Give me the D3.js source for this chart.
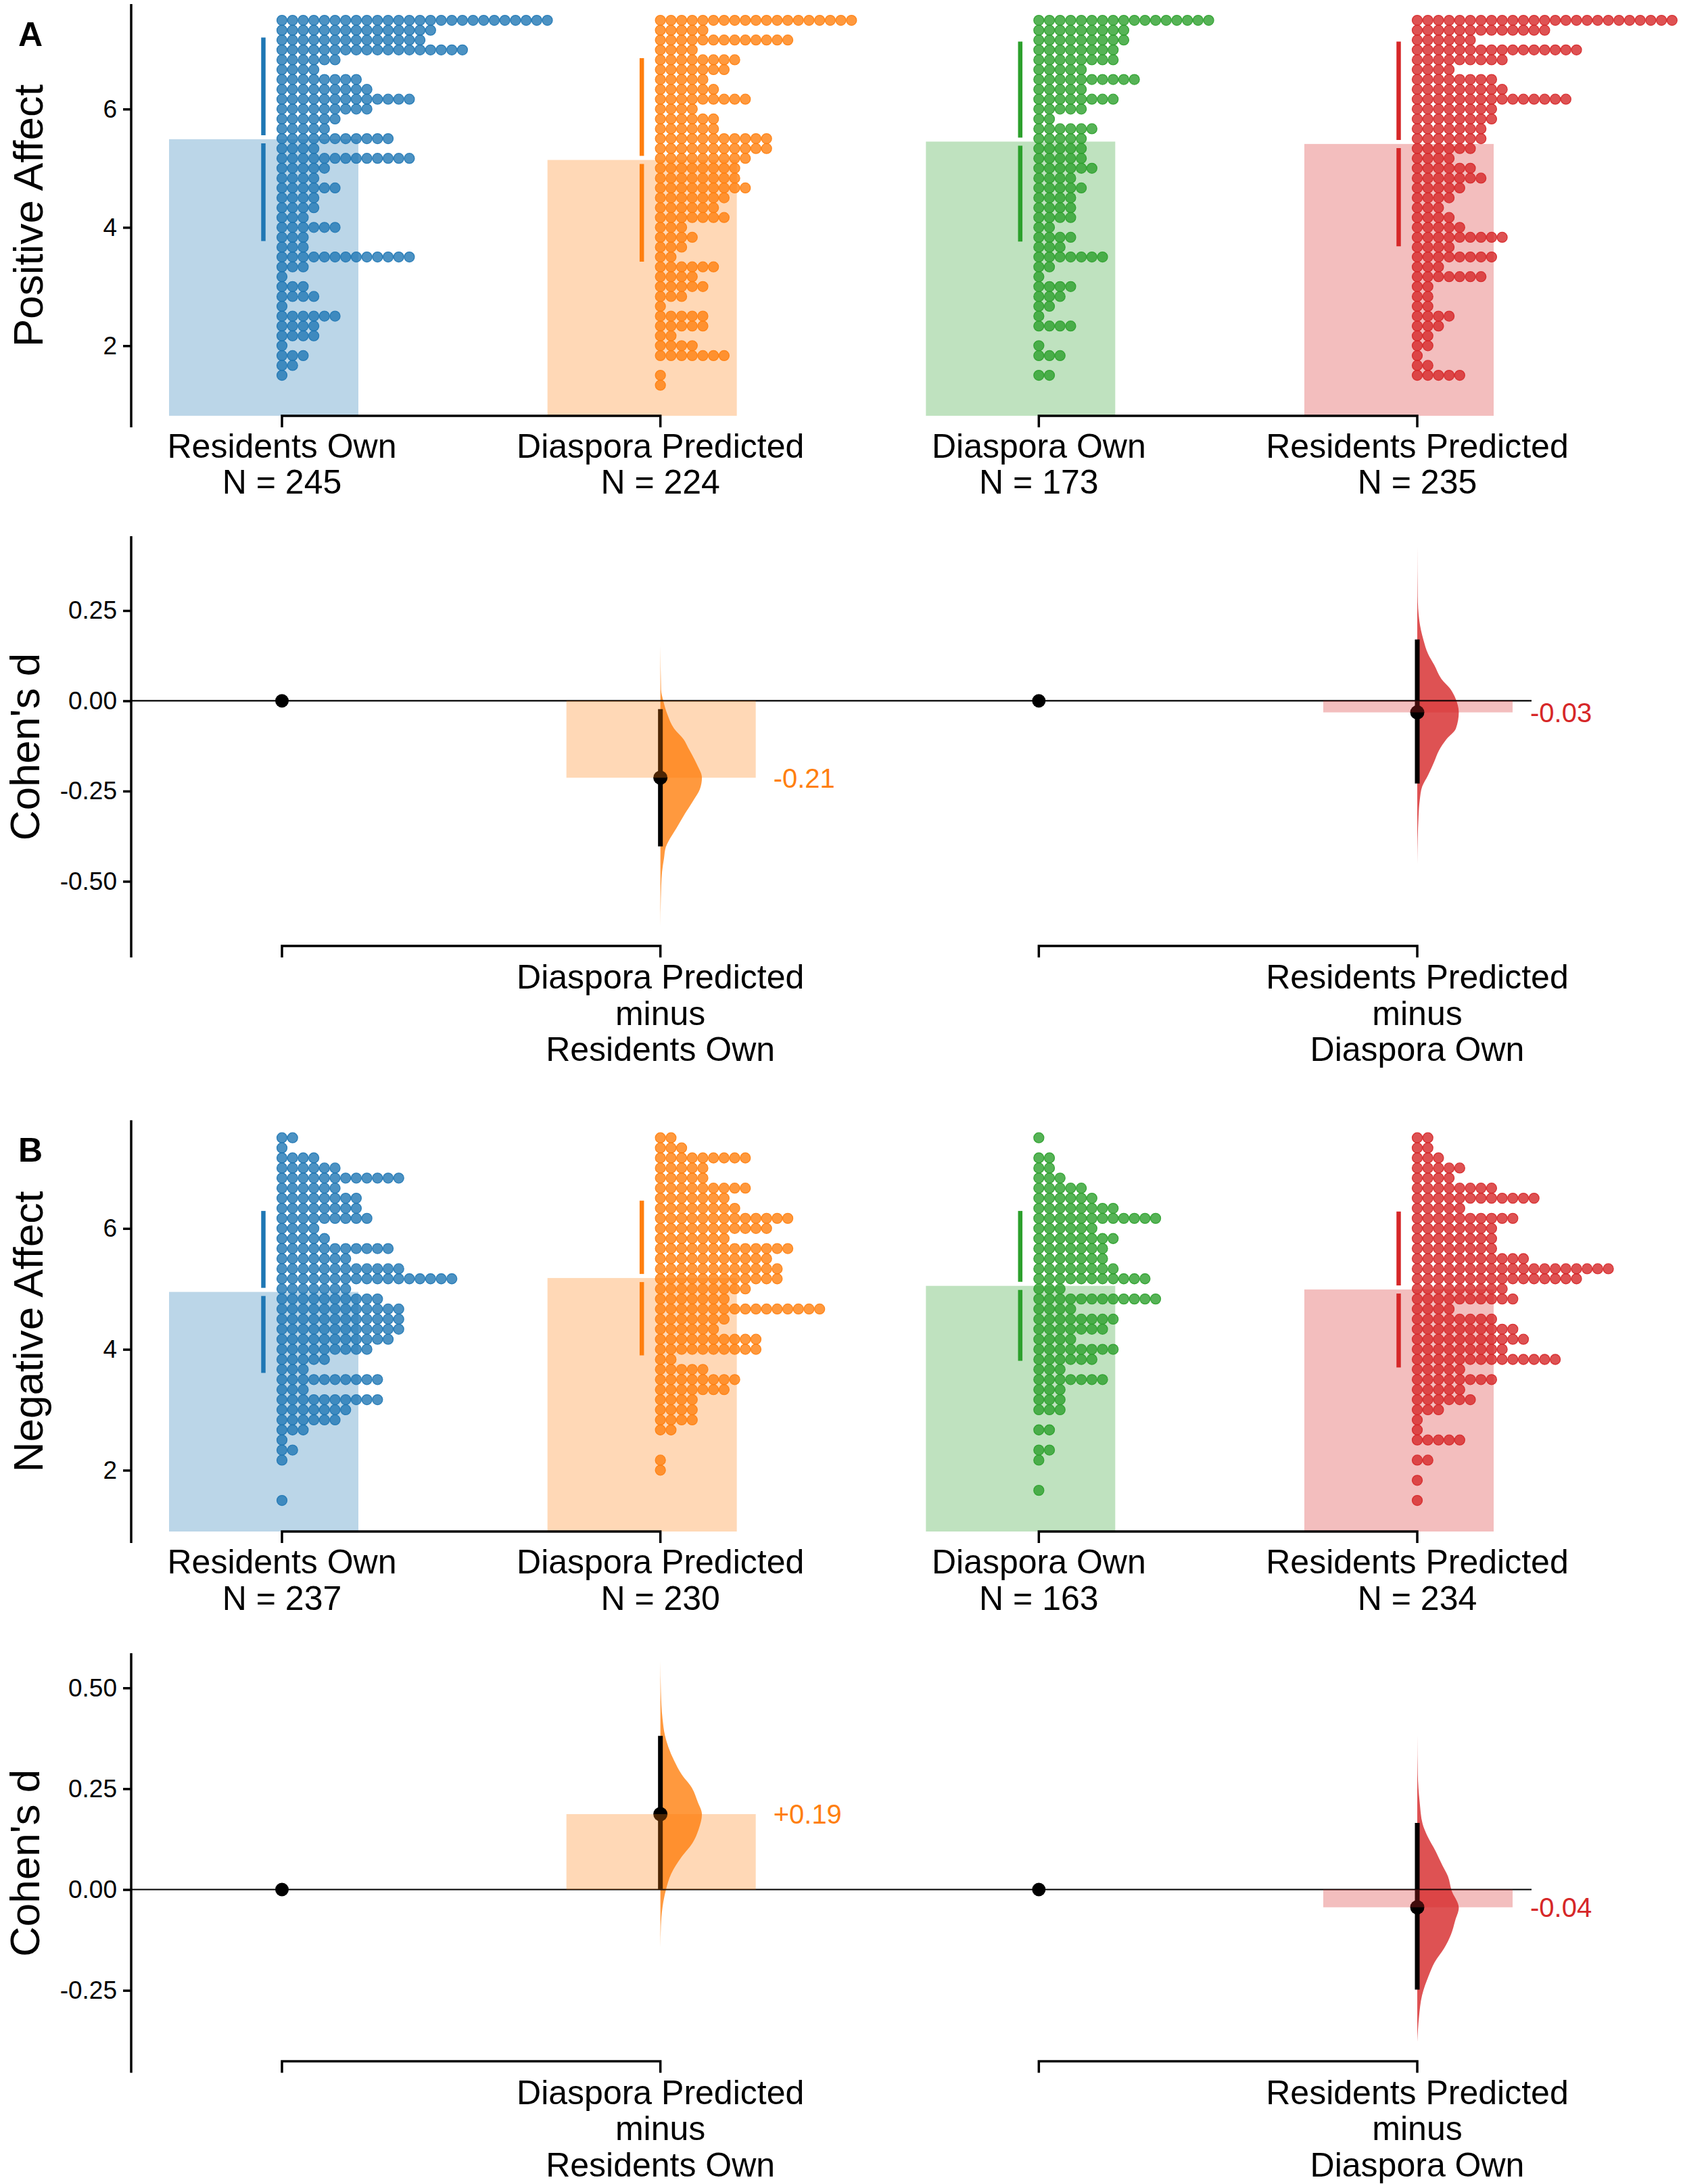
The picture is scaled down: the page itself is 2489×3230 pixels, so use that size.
<!DOCTYPE html>
<html>
<head>
  <meta charset="utf-8">
  <title>Affect estimation plots</title>
  <script src="https://d3js.org/d3.v7.min.js"></script>
  <style>
    body {
      margin: 0;
      background: white;
    }
    svg {
      display: block;
      font-family: "Liberation Sans", Arial, Helvetica, sans-serif;
    }
  </style>
</head>
<body>
  <div id="chart"></div>

  <script>
    // groups, in plot order
    const groups = ['Residents Own', 'Diaspora Predicted', 'Diaspora Own', 'Residents Predicted'];
    const nPositive = [245, 224, 173, 235];
    const nNegative = [237, 230, 163, 234];

    // response levels (scale means, steps of 1/6), top row first
    const levels = [7.5, 7.333, 7.167, 7, 6.833, 6.667, 6.5, 6.333, 6.167, 6,
      5.833, 5.667, 5.5, 5.333, 5.167, 5, 4.833, 4.667, 4.5, 4.333,
      4.167, 4, 3.833, 3.667, 3.5, 3.333, 3.167, 3, 2.833, 2.667,
      2.5, 2.333, 2.167, 2, 1.833, 1.667, 1.5, 1.333];

    // number of respondents at each level, positive affect
    const posResidentsOwn = [26, 15, 14, 18, 6, 4, 8, 9, 13, 9, 6, 5, 11, 4, 13, 5, 4, 6, 4, 4,
      3, 6, 3, 3, 13, 3, 1, 3, 4, 1, 6, 4, 4, 1, 3, 2, 1, 0];
    const posDiasporaPredicted = [19, 5, 13, 4, 8, 7, 5, 6, 9, 4, 6, 6, 11, 11, 9, 8, 8, 9, 7, 6,
      7, 3, 4, 3, 2, 6, 4, 5, 3, 1, 5, 5, 2, 4, 7, 0, 1, 1];
    const posDiasporaOwn = [17, 9, 9, 8, 8, 5, 10, 5, 8, 5, 2, 6, 5, 5, 5, 6, 4, 5, 4, 4,
      4, 2, 4, 3, 7, 2, 1, 4, 3, 2, 1, 4, 0, 1, 3, 0, 2, 0];
    const posResidentsPredicted = [25, 13, 6, 16, 9, 4, 8, 9, 15, 8, 8, 7, 7, 6, 4, 6, 7, 5, 4, 3,
      4, 5, 9, 4, 8, 3, 7, 2, 2, 2, 4, 3, 2, 2, 1, 2, 5, 0];

    // number of respondents at each level, negative affect
    const negResidentsOwn = [2, 1, 4, 6, 12, 6, 8, 8, 9, 4, 5, 11, 7, 12, 17, 7, 10, 12, 12, 12,
      11, 9, 5, 3, 10, 3, 10, 7, 6, 3, 1, 2, 1, 0, 0, 0, 1, 0];
    const negDiasporaPredicted = [2, 3, 9, 5, 5, 9, 7, 8, 13, 11, 7, 13, 11, 12, 12, 9, 7, 16, 7, 6,
      10, 10, 2, 5, 8, 7, 4, 4, 4, 2, 0, 0, 1, 1, 0, 0, 0, 0];
    const negDiasporaOwn = [1, 0, 2, 2, 3, 5, 6, 8, 12, 6, 8, 7, 7, 8, 11, 3, 12, 4, 8, 7,
      4, 8, 6, 3, 7, 3, 3, 3, 0, 2, 0, 2, 1, 0, 0, 1, 0, 0];
    const negResidentsPredicted = [2, 2, 3, 5, 4, 8, 12, 5, 10, 8, 8, 8, 11, 19, 16, 9, 10, 4, 8, 10,
      11, 9, 14, 5, 8, 5, 6, 3, 1, 1, 5, 0, 2, 0, 1, 0, 1, 0];

    // group means and standard deviations
    const posMeans = [5.49, 5.14, 5.45, 5.41];
    const posSds = [1.72, 1.72, 1.69, 1.73];
    const negMeans = [4.95, 5.18, 5.05, 4.99];
    const negSds = [1.34, 1.28, 1.24, 1.29];

    // Cohen's d with 95% CI: [d, low, high]
    const posEffects = [[-0.213, -0.403, -0.023], [-0.032, -0.229, 0.170]];
    const negEffects = [[0.187, 0.000, 0.381], [-0.044, -0.248, 0.165]];

    // bootstrap distribution outlines: [d, relative width]
    const posViolinA = [[0.153, 0], [0.031, 0.017], [0, 0.07], [-0.038, 0.17], [-0.077, 0.33],
      [-0.107, 0.56], [-0.130, 0.67], [-0.149, 0.76], [-0.176, 0.88], [-0.213, 1], [-0.245, 0.95],
      [-0.275, 0.80], [-0.313, 0.59], [-0.352, 0.39], [-0.390, 0.19], [-0.405, 0.13],
      [-0.436, 0.087], [-0.474, 0.04], [-0.550, 0.01], [-0.627, 0]];
    const posViolinB = [[0.428, 0], [0.290, 0.01], [0.222, 0.05], [0.168, 0.15], [0.130, 0.26],
      [0.099, 0.41], [0.061, 0.58], [0.031, 0.81], [0.007, 0.92], [-0.032, 1], [-0.077, 0.93],
      [-0.107, 0.70], [-0.138, 0.52], [-0.168, 0.41], [-0.206, 0.26], [-0.237, 0.12],
      [-0.275, 0.06], [-0.321, 0.03], [-0.451, 0]];
    const negViolinA = [[0.567, 0], [0.491, 0.012], [0.423, 0.052], [0.382, 0.11], [0.354, 0.19],
      [0.320, 0.33], [0.286, 0.51], [0.252, 0.76], [0.217, 0.90], [0.187, 1], [0.149, 0.92],
      [0.115, 0.77], [0.081, 0.51], [0.039, 0.26], [-0.002, 0.13], [-0.043, 0.052],
      [-0.091, 0.012], [-0.145, 0]];
    const negViolinB = [[0.382, 0], [0.286, 0.012], [0.217, 0.058], [0.163, 0.128], [0.135, 0.233],
      [0.094, 0.448], [0.060, 0.605], [0.033, 0.738], [-0.002, 0.826], [-0.045, 1], [-0.077, 0.913],
      [-0.111, 0.814], [-0.145, 0.651], [-0.180, 0.419], [-0.214, 0.273], [-0.262, 0.116],
      [-0.317, 0.041], [-0.378, 0]];

    const rawTicks = [2, 4, 6];
    const posDeltaTicks = [0.25, 0, -0.25, -0.5];
    const negDeltaTicks = [0.5, 0.25, 0, -0.25];

    const palette = ['#1f77b4', '#ff7f0e', '#2ca02c', '#d62728'];
    const W = 2489, H = 3230;
    const axisX = 194;
    const dotStep = 15.7;

    const svg = d3.select('#chart').append('svg')
      .attr('width', W)
      .attr('height', H);
    svg.append('rect').attr('width', W).attr('height', H).attr('fill', 'white');

    const x = d3.scalePoint().domain(groups).range([417, 2096]);

    const fmt2 = v => v.toFixed(2);
    const signed = v => (v > 0 ? '+' : '') + v.toFixed(2);

    function yAxis(g, y, ticks, format, top, bottom) {
      const ax = g.append('g')
        .attr('transform', `translate(${axisX},0)`)
        .call(d3.axisLeft(y).tickValues(ticks).tickFormat(format).tickSize(12).tickPadding(9));
      ax.select('.domain').remove();
      ax.selectAll('.tick line').attr('stroke', '#000').attr('stroke-width', 3.5);
      ax.selectAll('.tick text')
        .attr('fill', '#000')
        .style('font-family', '"Liberation Sans", Arial, sans-serif')
        .style('font-size', '37px');
      g.append('line')
        .attr('x1', axisX).attr('x2', axisX)
        .attr('y1', top).attr('y2', bottom)
        .attr('stroke', '#000').attr('stroke-width', 3.5);
    }

    // bracket-style x spines, one per pair
    function brackets(g, yPx) {
      [[0, 1], [2, 3]].forEach(([a, b]) => {
        g.append('path')
          .attr('d', `M${x(groups[a])},${yPx + 17}V${yPx}H${x(groups[b])}V${yPx + 17}`)
          .attr('fill', 'none')
          .attr('stroke', '#000')
          .attr('stroke-width', 3.5);
      });
    }

    function labelLines(g, cx, yFirst, lines) {
      lines.forEach((t, i) => {
        g.append('text')
          .attr('x', cx)
          .attr('y', yFirst + i * 53.5)
          .attr('text-anchor', 'middle')
          .style('font-size', '50px')
          .text(t);
      });
    }

    function yLabel(g, text, cx, cy) {
      g.append('text')
        .attr('transform', `translate(${cx},${cy}) rotate(-90)`)
        .attr('text-anchor', 'middle')
        .style('font-size', '62px')
        .text(text);
    }

    function rawPanel(cfg) {
      const y = d3.scaleLinear().domain(cfg.domain).range(cfg.range);
      const base = cfg.range[0];
      const g = svg.append('g');

      g.selectAll('rect.bar')
        .data(groups)
        .join('rect')
        .attr('class', 'bar')
        .attr('x', d => x(d) - 167)
        .attr('width', 280)
        .attr('y', (d, i) => y(cfg.means[i]))
        .attr('height', (d, i) => base - y(cfg.means[i]))
        .attr('fill', (d, i) => palette[i])
        .attr('fill-opacity', 0.3);

      const dots = [];
      cfg.counts.forEach((row, gi) => {
        row.forEach((c, k) => {
          for (let j = 0; j < c; j++) dots.push({ gi, v: levels[k], j });
        });
      });

      g.selectAll('circle.dot')
        .data(dots)
        .join('circle')
        .attr('class', 'dot')
        .attr('cx', d => x(groups[d.gi]) + d.j * dotStep)
        .attr('cy', d => y(d.v))
        .attr('r', 7.5)
        .attr('fill', d => palette[d.gi])
        .attr('fill-opacity', 0.8)
        .attr('stroke', d => palette[d.gi])
        .attr('stroke-opacity', 0.9)
        .attr('stroke-width', 1.3);

      // mean +/- sd, broken at the mean
      const gap = 6;
      groups.forEach((grp, i) => {
        const m = y(cfg.means[i]);
        [[y(cfg.means[i] + cfg.sds[i]), m - gap], [m + gap, y(cfg.means[i] - cfg.sds[i])]].forEach(([a, b]) => {
          g.append('line')
            .attr('x1', x(grp) - 27.5).attr('x2', x(grp) - 27.5)
            .attr('y1', a).attr('y2', b)
            .attr('stroke', palette[i])
            .attr('stroke-width', 6.5);
        });
      });

      yAxis(g, y, rawTicks, d3.format('d'), cfg.range[1], base + 17);
      brackets(g, base);
      groups.forEach((grp, i) => labelLines(g, x(grp), base + 62, [grp, 'N = ' + cfg.n[i]]));
      yLabel(g, cfg.label, 63, (cfg.range[1] + base + 17) / 2);
    }

    function deltaPanel(cfg) {
      const y = d3.scaleLinear().domain(cfg.domain).range(cfg.range);
      const base = cfg.range[0];
      const g = svg.append('g');

      [0, 1].forEach(k => {
        const ci = 2 * k + 1;
        const cx = x(groups[ci]);

        const area = d3.area()
          .y(p => y(p[0]))
          .x0(cx)
          .x1(p => cx + p[1] * 61.4)
          .curve(d3.curveMonotoneY);
        g.append('path')
          .attr('d', area(cfg.violins[k]))
          .attr('fill', palette[ci])
          .attr('fill-opacity', 0.8);
      });

      g.append('line')
        .attr('x1', axisX).attr('x2', 2265)
        .attr('y1', y(0)).attr('y2', y(0))
        .attr('stroke', '#000')
        .attr('stroke-width', 2.2);

      [0, 2].forEach(ci => {
        g.append('circle')
          .attr('cx', x(groups[ci]))
          .attr('cy', y(0))
          .attr('r', 10)
          .attr('fill', '#000');
      });

      [0, 1].forEach(k => {
        const ci = 2 * k + 1;
        const cx = x(groups[ci]);
        const [d, lo, hi] = cfg.effects[k];

        g.append('line')
          .attr('x1', cx).attr('x2', cx)
          .attr('y1', y(hi)).attr('y2', y(lo))
          .attr('stroke', '#000')
          .attr('stroke-width', 7);
        g.append('circle')
          .attr('cx', cx).attr('cy', y(d))
          .attr('r', 10.5)
          .attr('fill', '#000');
        g.append('rect')
          .attr('x', cx - 139)
          .attr('width', 280)
          .attr('y', Math.min(y(0), y(d)))
          .attr('height', Math.abs(y(0) - y(d)))
          .attr('fill', palette[ci])
          .attr('fill-opacity', 0.3);
        g.append('text')
          .attr('x', cx + 167)
          .attr('y', y(d))
          .attr('dy', '0.36em')
          .attr('fill', palette[ci])
          .style('font-size', '40px')
          .text(signed(d));

        labelLines(g, cx, base + 63, [groups[ci], 'minus', groups[ci - 1]]);
      });

      yAxis(g, y, cfg.ticks, fmt2, cfg.range[1], base + 17);
      brackets(g, base);
      yLabel(g, "Cohen's d", 58, (cfg.range[1] + base + 17) / 2);
    }

    rawPanel({
      label: 'Positive Affect',
      domain: [0.816, 7.776], range: [614.9, 5.9],
      counts: [posResidentsOwn, posDiasporaPredicted, posDiasporaOwn, posResidentsPredicted],
      means: posMeans, sds: posSds, n: nPositive
    });

    deltaPanel({
      domain: [-0.679, 0.456], range: [1399, 793],
      effects: posEffects, violins: [posViolinA, posViolinB], ticks: posDeltaTicks
    });

    rawPanel({
      label: 'Negative Affect',
      domain: [0.986, 7.79], range: [2265, 1656.8],
      counts: [negResidentsOwn, negDiasporaPredicted, negDiasporaOwn, negResidentsPredicted],
      means: negMeans, sds: negSds, n: nNegative
    });

    deltaPanel({
      domain: [-0.426, 0.586], range: [3048.6, 2445],
      effects: negEffects, violins: [negViolinA, negViolinB], ticks: negDeltaTicks
    });

    // panel letters
    [['A', 68], ['B', 1718]].forEach(([t, yy]) => {
      svg.append('text')
        .attr('x', 45).attr('y', yy)
        .attr('text-anchor', 'middle')
        .style('font-size', '50px')
        .style('font-weight', 'bold')
        .text(t);
    });
  </script>
</body>
</html>
